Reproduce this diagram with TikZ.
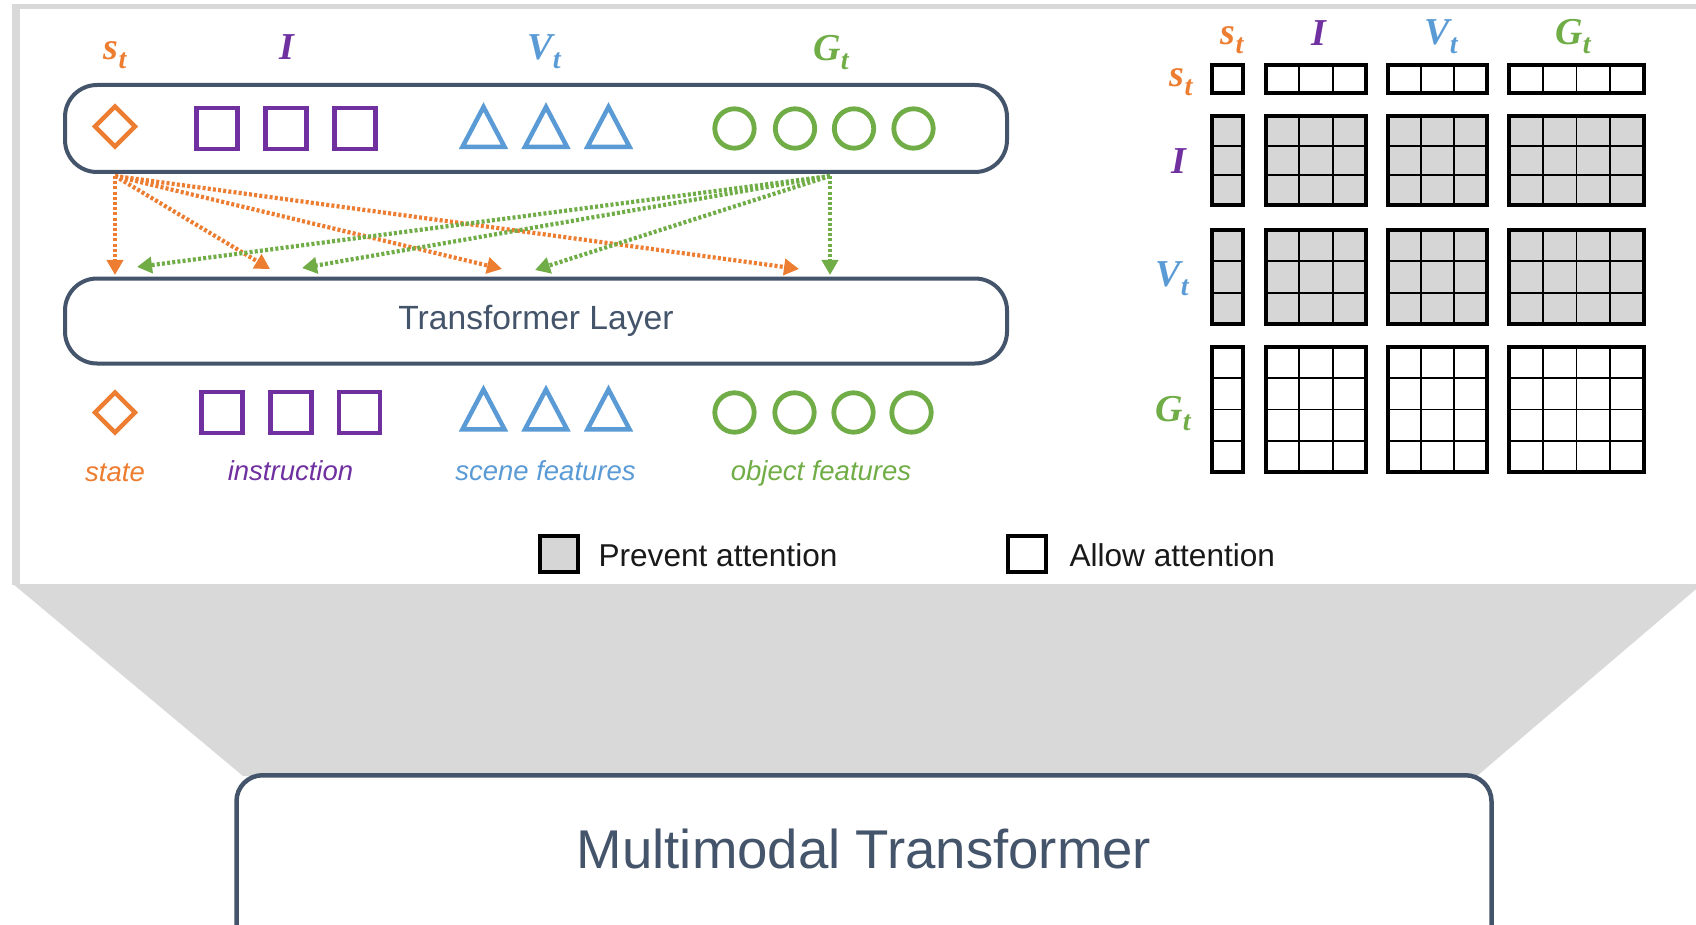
\documentclass[tikz,border=0pt]{standalone}
\usepackage{fontspec}
\setmainfont{Liberation Sans}
\newfontfamily\serifbi{Liberation Serif}
\usetikzlibrary{arrows.meta}

\definecolor{cOrange}{HTML}{ED7D31}
\definecolor{cPurple}{HTML}{7030A0}
\definecolor{cBlue}{HTML}{5B9BD5}
\definecolor{cGreen}{HTML}{70AD47}
\definecolor{cSlate}{HTML}{44546A}
\definecolor{cPanel}{HTML}{D9D9D9}
\definecolor{cCell}{HTML}{D6D6D6}

% bold italic symbol with a lowered subscript
\newcommand\symlab[3]{{\color{#1}\serifbi\bfseries\itshape\fontsize{38}{38}\selectfont #2\raisebox{-9pt}{\fontsize{28}{28}\selectfont #3}}}

\tikzset{
  tokline/.style={line width=4.5pt, line join=miter},
  pics/tokdiamond/.style={code={\draw[tokline,cOrange] (0,-20) -- (20,0) -- (0,20) -- (-20,0) -- cycle;}},
  pics/toksquare/.style={code={\draw[tokline,cPurple] (-20.5,-20.5) rectangle (20.5,20.5);}},
  pics/toktri/.style={code={\draw[tokline,cBlue] (-21,18.3) -- (21,18.3) -- (0,-21.5) -- cycle;}},
  pics/tokcircle/.style={code={\draw[line width=4.8pt,cGreen] (0,0) circle (19.7);}},
  slatebox/.style={draw=cSlate, line width=4pt, rounded corners=32pt, inner sep=0pt},
  toklabel/.style={anchor=base, font=\itshape\fontsize{27.5}{27.5}\selectfont},
  dotarrow/.style={line width=4.2pt, dash pattern=on 3pt off 2.2pt, -{Triangle[length=15pt,width=16pt]}},
  orangearrow/.style={dotarrow, cOrange},
  greenarrow/.style={dotarrow, cGreen},
  gridthin/.style={black, line width=1.8pt},
  gridthick/.style={black, line width=4.3pt},
  legendbox/.style={draw=black, line width=4pt, minimum width=38pt, minimum height=36pt, inner sep=0pt},
  legendtext/.style={anchor=base west, text=black!90, font=\fontsize{31.6}{31.6}\selectfont},
}

\begin{document}
\begin{tikzpicture}[x=1pt, y=-1pt]
\useasboundingbox (0,0) rectangle (1696,925);
\clip (0,0) rectangle (1696,925);

% panel frame and the funnel below it
\fill[cPanel] (12,4) rectangle (1700,585);
\fill[white] (19.5,9.5) rectangle (1700,585);
\fill[cPanel] (13,584) -- (1702,584) -- (1477,776) -- (243,776) -- cycle;

% ---------- token sequence ----------
\node[slatebox, minimum width=942pt, minimum height=87pt] (tokens) at (536,128.5) {};
\node[slatebox, minimum width=942pt, minimum height=85pt] (layer) at (536,321) {};
\node[anchor=base, text=cSlate, font=\fontsize{33.6}{33.6}\selectfont] (layertext) at (536,329) {Transformer Layer};

\node[anchor=base] (labS) at (115,60) {\symlab{cOrange}{s}{t}};
\node[anchor=base] (labI) at (287,60) {\symlab{cPurple}{I}{}};
\node[anchor=base] (labV) at (544,60) {\symlab{cBlue}{V}{t}};
\node[anchor=base] (labG) at (831,61) {\symlab{cGreen}{G}{t}};

% input tokens
\pic at (115,126.5) {tokdiamond};
\foreach \x in {217,286,355} \pic at (\x,128.5) {toksquare};
\foreach \x in {483.5,546,608.5} \pic at (\x,128.5) {toktri};
\foreach \x in {734.5,795,854,913.5} \pic at (\x,128.5) {tokcircle};

% output tokens
\pic at (115,412.5) {tokdiamond};
\foreach \x in {222,291,359.5} \pic at (\x,412.5) {toksquare};
\foreach \x in {483.5,546,608.5} \pic at (\x,411) {toktri};
\foreach \x in {734.5,794.5,853.5,911.5} \pic at (\x,412.5) {tokcircle};

\node[toklabel, text=cOrange] (txtState) at (115,481) {state};
\node[toklabel, text=cPurple] (txtInstr) at (290.5,480) {instruction};
\node[toklabel, text=cBlue] (txtScene) at (545.5,480) {scene features};
\node[toklabel, text=cGreen] (txtObject) at (821,480) {object features};

% attention connections
\coordinate (oSrc) at (115,176);
\coordinate (oT1) at (115,275);
\coordinate (oT2) at (270,269);
\coordinate (oT3) at (502,269);
\coordinate (oT4) at (799,269);
\coordinate (gSrc) at (830,176);
\coordinate (gT1) at (137,267);
\coordinate (gT2) at (302,268);
\coordinate (gT3) at (535,270);
\coordinate (gT4) at (830,275);
\foreach \t in {oT1,oT2,oT3,oT4} \draw[orangearrow] (oSrc) -- (\t);
\foreach \t in {gT1,gT2,gT3,gT4} \draw[greenarrow] (gSrc) -- (\t);

% ---------- attention mask ----------
\foreach \ya/\yb/\ny/\fc in {65/93/1/white,116/205/3/cCell,230/324/3/cCell,347/472/4/white}{
  \foreach \xa/\xb/\nx in {1212/1243/1,1266/1366/3,1388/1487/3,1509/1644/4}{
    \fill[\fc] (\xa,\ya) rectangle (\xb,\yb);
    \foreach \i in {1,2,3}{
      \ifnum\i<\nx\relax \draw[gridthin] ({\xa+\i*(\xb-\xa)/\nx},\ya) -- ({\xa+\i*(\xb-\xa)/\nx},\yb);\fi
      \ifnum\i<\ny\relax \draw[gridthin] (\xa,{\ya+\i*(\yb-\ya)/\ny}) -- (\xb,{\ya+\i*(\yb-\ya)/\ny});\fi
    }
    \draw[gridthick] (\xa,\ya) rectangle (\xb,\yb);
  }
}

\node[anchor=base] (colS) at (1232,45) {\symlab{cOrange}{s}{t}};
\node[anchor=base] (colI) at (1319,46) {\symlab{cPurple}{I}{}};
\node[anchor=base] (colV) at (1441,45) {\symlab{cBlue}{V}{t}};
\node[anchor=base] (colG) at (1573,45) {\symlab{cGreen}{G}{t}};
\node[anchor=base] (rowS) at (1181,87) {\symlab{cOrange}{s}{t}};
\node[anchor=base] (rowI) at (1179,174) {\symlab{cPurple}{I}{}};
\node[anchor=base] (rowV) at (1172,287) {\symlab{cBlue}{V}{t}};
\node[anchor=base] (rowG) at (1173,421) {\symlab{cGreen}{G}{t}};

% legend
\node[legendbox, fill=cCell] (prevBox) at (559,554) {};
\node[legendtext] (prevText) at (595,566) {Prevent attention};
\node[legendbox, fill=white] (allowBox) at (1026.5,554) {};
\node[legendtext] (allowText) at (1066,566) {Allow attention};

% ---------- outer block ----------
\node[draw=cSlate, fill=white, line width=4.5pt, rounded corners=26pt, minimum width=1255pt, minimum height=300pt, anchor=north] (mmt) at (864,773) {};
\node[anchor=base, text=cSlate, font=\fontsize{54.6}{54.6}\selectfont] (mmtText) at (864,868) {Multimodal Transformer};
\end{tikzpicture}
\end{document}
